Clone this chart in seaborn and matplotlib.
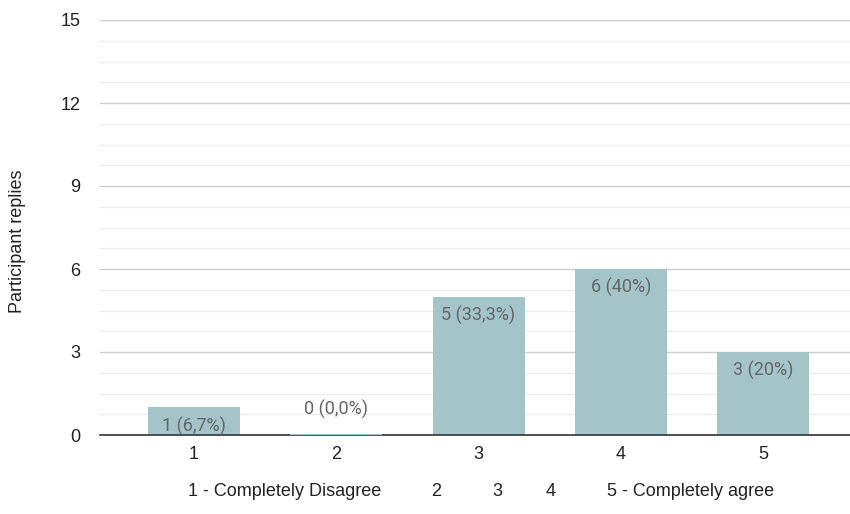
import matplotlib
matplotlib.use("Agg")
import matplotlib.pyplot as plt
from matplotlib.ticker import MultipleLocator
import seaborn as sns
import pandas as pd

categories = ["1", "2", "3", "4", "5"]
replies = [1, 0, 5, 6, 3]
value_labels = ["1 (6,7%)", "0 (0,0%)", "5 (33,3%)", "6 (40%)", "3 (20%)"]
legend_labels = ["1 - Completely Disagree", "2", "3", "4", "5 - Completely agree"]
y_ticks = [0, 3, 6, 9, 12, 15]

df = pd.DataFrame({"answer": categories, "replies": replies})

sns.set_theme(style="white")
plt.rcParams["font.family"] = ["Liberation Sans", "DejaVu Sans"]

fig = plt.figure(figsize=(8.5, 5.14), dpi=100)
ax = fig.add_axes([100 / 850, 79 / 514, 750 / 850, 415 / 514])

bar_color = "#a3c4c9"
sns.barplot(data=df, x="answer", y="replies", color=bar_color, width=0.646,
            saturation=1, ax=ax, zorder=3)

for p in ax.patches:
    p.set_edgecolor("none")
ax.set_xlim(-0.66, 4.61)
ax.set_ylim(0, 15)

ax.yaxis.set_minor_locator(MultipleLocator(0.75))
ax.set_yticks(y_ticks)
ax.grid(axis="y", which="major", color="#cccccc", linewidth=1, zorder=0)
ax.grid(axis="y", which="minor", color="#ebebeb", linewidth=1, zorder=0)
ax.grid(axis="x", visible=False)
ax.set_axisbelow(True)

for s in ["top", "right", "left"]:
    ax.spines[s].set_visible(False)
ax.spines["bottom"].set_color("#333333")
ax.spines["bottom"].set_linewidth(1.2)
ax.spines["bottom"].set_zorder(4)

ax.tick_params(axis="y", which="both", length=0, labelsize=13, pad=14, colors="#222222")
ax.tick_params(axis="x", length=0, labelsize=13, pad=8, colors="#222222")

ax.set_xlabel("")
ax.set_ylabel("")
fig.text(18 / 850, 1 - 241 / 514, "Participant replies", rotation=90,
         ha="center", va="center", fontsize=13, color="#222222")

# zero bar drawn as a thin colored line on the baseline
for i, v in enumerate(replies):
    if v == 0:
        ax.plot([i - 0.323, i + 0.323], [0, 0], color=bar_color, lw=1.5, zorder=5,
                solid_capstyle="butt")

label_font = ["Roboto", "DejaVu Sans"]
for i, (v, lab) in enumerate(zip(replies, value_labels)):
    dy = -12 if v > 0 else 20
    ax.annotate(lab, (i, v), xytext=(0, dy), textcoords="offset points",
                ha="center", va="center_baseline", fontsize=13, color="#666666",
                family=label_font, zorder=6)

# legend row beneath the axis
legend_x = [285, 436, 497, 551, 691]
for x, t in zip(legend_x, legend_labels):
    fig.text(x / 850, 1 - 491 / 514, t, ha="center", va="center",
             fontsize=13, color="#222222")

fig.savefig("out.png", dpi=100)
